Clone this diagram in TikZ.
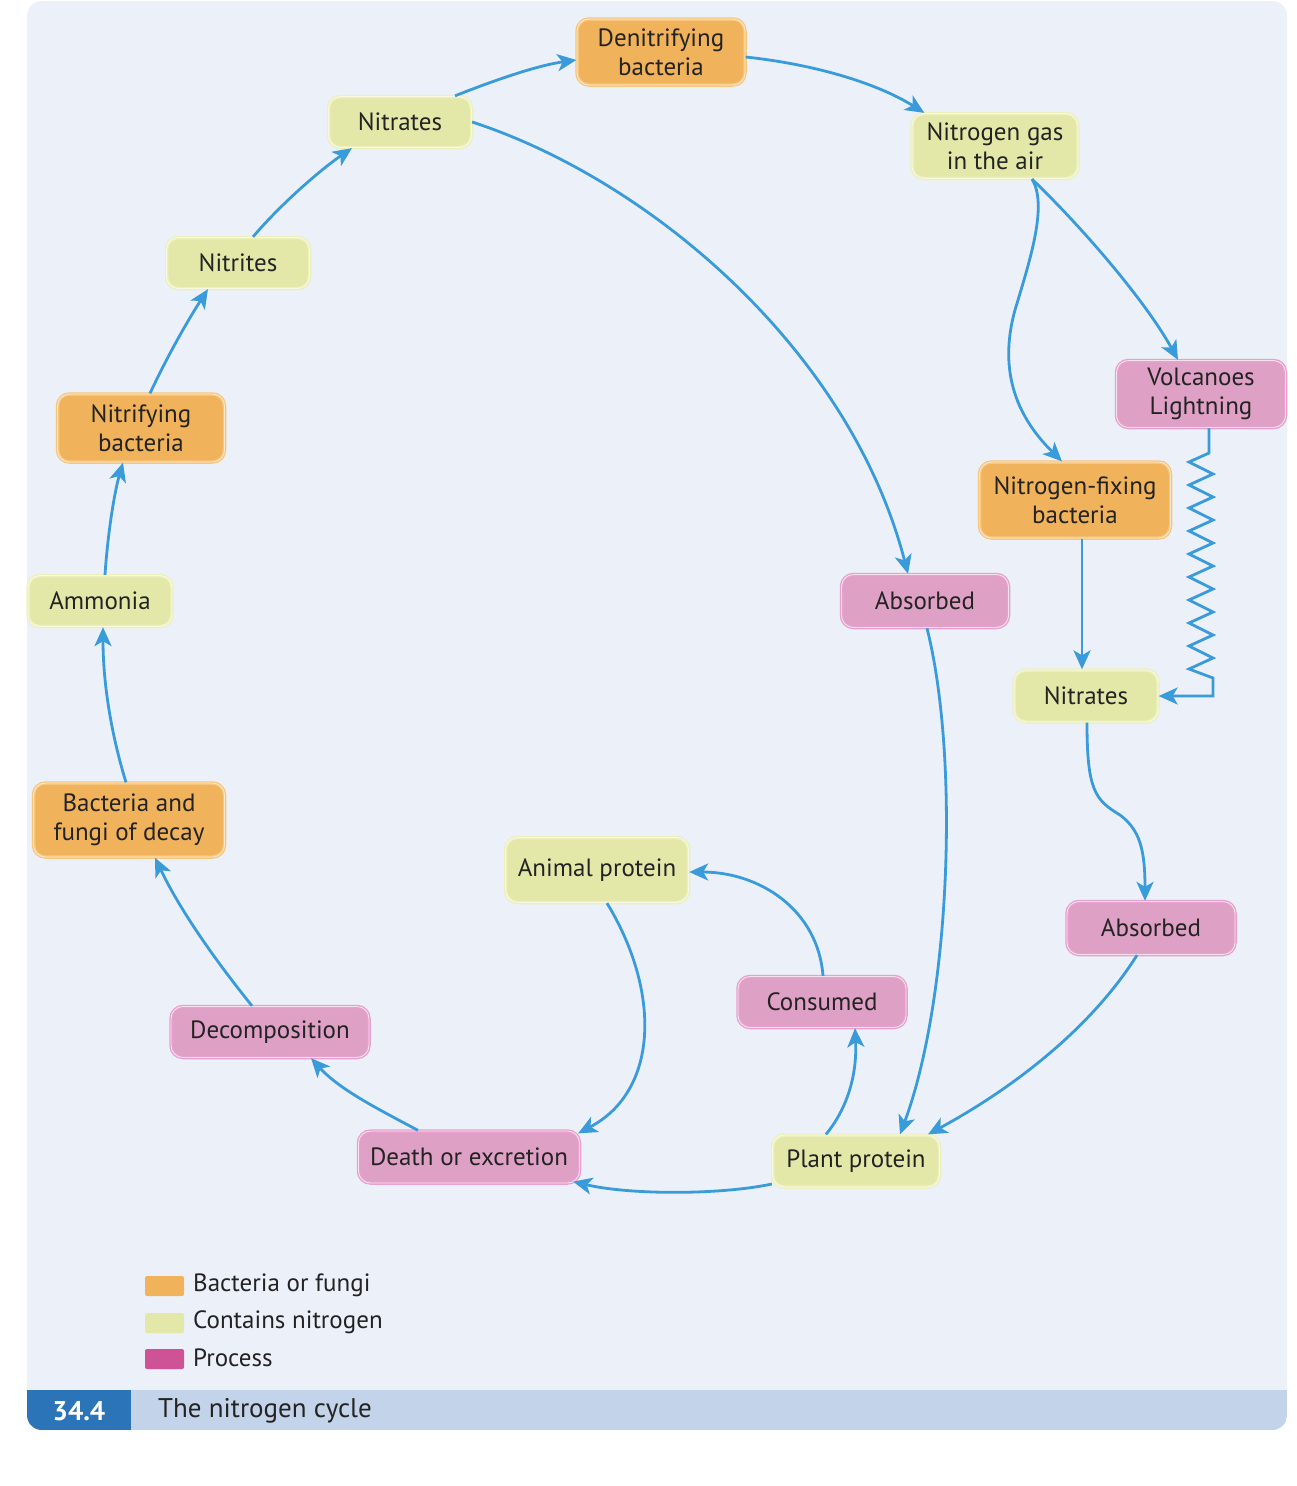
\documentclass[tikz,border=0pt]{standalone}
\usepackage{fontspec}
\setmainfont{PT Sans}
\usetikzlibrary{arrows.meta}
\definecolor{bgc}{RGB}{235,240,249}
\definecolor{orfill}{RGB}{240,178,90}
\definecolor{orrim}{RGB}{247,198,125}
\definecolor{grfill}{RGB}{227,232,168}
\definecolor{grrim}{RGB}{236,240,188}
\definecolor{pkfill}{RGB}{222,160,197}
\definecolor{pkrim}{RGB}{232,160,205}
\definecolor{pklegend}{RGB}{208,82,150}
\definecolor{arrc}{RGB}{58,155,218}
\definecolor{capdark}{RGB}{44,116,184}
\definecolor{caplight}{RGB}{195,212,234}
\definecolor{txt}{RGB}{35,35,35}
\tikzset{
  box/.style={rounded corners=12pt, inner sep=0pt, align=center, text=txt,
    font=\fontsize{25}{29}\selectfont, line width=1.3pt, double=white!70!#1, double distance=0.9pt},
  bact/.style={box=orfill, fill=orfill, draw=orrim},
  nitro/.style={box=grfill, fill=grfill, draw=grrim},
  proc/.style={box=pkfill, fill=pkfill, draw=pkrim},
  flow/.style={draw=arrc, line width=2.8pt, arrows={-Stealth[length=19pt,width=17pt,inset=5pt]}},
  legtxt/.style={anchor=west, text=txt, font=\fontsize{25}{29}\selectfont, inner sep=0pt},
}
\begin{document}
\begin{tikzpicture}[x=1pt,y=-1pt]
\useasboundingbox (0,0) rectangle (1297,1486);
% panel
\fill[bgc, rounded corners=15pt] (27,1) rectangle (1287,1430);
\begin{scope}
  \clip[rounded corners=15pt] (27,1) rectangle (1287,1430);
  \fill[caplight] (27,1390) rectangle (1287,1430);
  \fill[capdark] (27,1390) rectangle (131,1430);
\end{scope}
\node[text=white, font=\fontsize{27}{30}\selectfont\bfseries, inner sep=0pt] (capnum) at (79,1411) {34.4};
\node[legtxt, font=\fontsize{27}{30}\selectfont] (captxt) at (158,1411) {The nitrogen cycle};
% legend
\fill[orfill, rounded corners=2pt] (145,1276) rectangle (184,1296);
\fill[grfill, rounded corners=2pt] (145,1313) rectangle (184,1333);
\fill[pklegend, rounded corners=2pt] (145,1349) rectangle (184,1369);
\node[legtxt] (lg1) at (193,1285) {Bacteria or fungi};
\node[legtxt] (lg2) at (193,1322) {Contains nitrogen};
\node[legtxt] (lg3) at (193,1358) {Process};
% nodes
\node[bact, minimum width=168pt, minimum height=66pt] (denit) at (661,52) {Denitrifying\\bacteria};
\node[nitro, minimum width=166pt, minimum height=65pt] (n2) at (995,146) {Nitrogen gas\\in the air};
\node[nitro, minimum width=143pt, minimum height=51pt] (nitT) at (400,122) {Nitrates};
\node[nitro, minimum width=143pt, minimum height=51pt] (nitrites) at (238,263) {Nitrites};
\node[bact, minimum width=167pt, minimum height=68pt] (nitrif) at (141,428) {Nitrifying\\bacteria};
\node[nitro, minimum width=144pt, minimum height=51pt] (amm) at (100,601) {Ammonia};
\node[bact, minimum width=191pt, minimum height=74pt] (bfd) at (129,820) {Bacteria and\\fungi of decay};
\node[proc, minimum width=198pt, minimum height=51pt] (decomp) at (270,1032) {Decomposition};
\node[proc, minimum width=221pt, minimum height=52pt] (death) at (469,1157) {Death or excretion};
\node[nitro, minimum width=167pt, minimum height=52pt] (plant) at (856,1161) {Plant protein};
\node[nitro, minimum width=183pt, minimum height=65pt] (animal) at (597,870) {Animal protein};
\node[proc, minimum width=168pt, minimum height=51pt] (cons) at (822,1002) {Consumed};
\node[proc, minimum width=167pt, minimum height=53pt] (absM) at (925,601) {Absorbed};
\node[proc, minimum width=168pt, minimum height=53pt] (absR) at (1151,928) {Absorbed};
\node[nitro, minimum width=144pt, minimum height=52pt] (nitR) at (1086,696) {Nitrates};
\node[bact, minimum width=191pt, minimum height=76pt] (nfix) at (1075,500) {Nitrogen-fixing\\bacteria};
\node[proc, minimum width=169pt, minimum height=67pt] (volc) at (1201,394) {Volcanoes\\Lightning};
% connectors
\draw[flow] ([xshift=55pt]nitT.north) .. controls (500,78) and (540,65) .. ([yshift=-8pt]denit.west);
\draw[flow] ([yshift=-5pt]denit.east) .. controls (820,65) and (880,85) .. ([xshift=13pt]n2.north west);
\draw[flow] ([xshift=37pt]n2.south) .. controls (1080,225) and (1145,300) .. ([xshift=-23pt]volc.north);
\draw[flow] ([xshift=37pt]n2.south) .. controls (1048,205) and (1030,260) .. (1015,310) .. controls (997,375) and (1020,420) .. ([xshift=-13pt]nfix.north);
\draw[flow] ([xshift=8pt]volc.south) -- (1209,453)
  -- (1189,462) -- (1213,474) -- (1189,485) -- (1213,497) -- (1189,508) -- (1213,520)
  -- (1189,531) -- (1213,543) -- (1189,554) -- (1213,566) -- (1189,577) -- (1213,589)
  -- (1189,600) -- (1213,612) -- (1189,623) -- (1213,635) -- (1189,646) -- (1213,658)
  -- (1189,669) -- (1213,678) -- (1213,696) -- (nitR.east);
\draw[flow] ([xshift=7pt]nfix.south) -- ([xshift=-4pt]nitR.north);
\draw[flow] ([xshift=1pt]nitR.south) .. controls (1087,790) and (1095,800) .. (1120,815) .. controls (1140,830) and (1145,850) .. ([xshift=-6pt]absR.north);
\draw[flow] ([xshift=-14pt]absR.south) .. controls (1090,1030) and (1010,1090) .. ([xshift=72pt]plant.north);
\draw[flow] ([xshift=2pt]absM.south) .. controls (960,760) and (950,1000) .. ([xshift=44pt]plant.north);
\draw[flow] (nitT.east) .. controls (650,180) and (850,350) .. ([xshift=-17pt]absM.north);
\draw[flow] ([xshift=-30pt]plant.north) .. controls (850,1105) and (857,1070) .. ([xshift=33pt]cons.south);
\draw[flow] ([xshift=1pt]cons.north) .. controls (818,910) and (760,872) .. ([yshift=-2pt]animal.east);
\draw[flow] ([xshift=10pt]animal.south) .. controls (660,990) and (660,1090) .. ([xshift=-2pt,yshift=-3pt]death.north east);
\draw[flow] ([yshift=-23pt]plant.west) .. controls (720,1195) and (630,1195) .. ([xshift=-7pt,yshift=2pt]death.south east);
\draw[flow] ([xshift=-51pt]death.north) .. controls (380,1110) and (340,1090) .. ([xshift=41pt]decomp.south);
\draw[flow] ([xshift=-18pt]decomp.north) .. controls (215,960) and (180,910) .. ([xshift=26pt]bfd.south);
\draw[flow] ([xshift=-3pt]bfd.north) .. controls (110,730) and (103,680) .. ([xshift=3pt]amm.south);
\draw[flow] ([xshift=5pt]amm.north) .. controls (108,530) and (115,490) .. ([xshift=-18pt]nitrif.south);
\draw[flow] ([xshift=9pt]nitrif.north) .. controls (168,355) and (188,320) .. ([xshift=-30pt]nitrites.south);
\draw[flow] ([xshift=15pt]nitrites.north) .. controls (280,205) and (320,170) .. ([xshift=-48pt]nitT.south);
\end{tikzpicture}
\end{document}
